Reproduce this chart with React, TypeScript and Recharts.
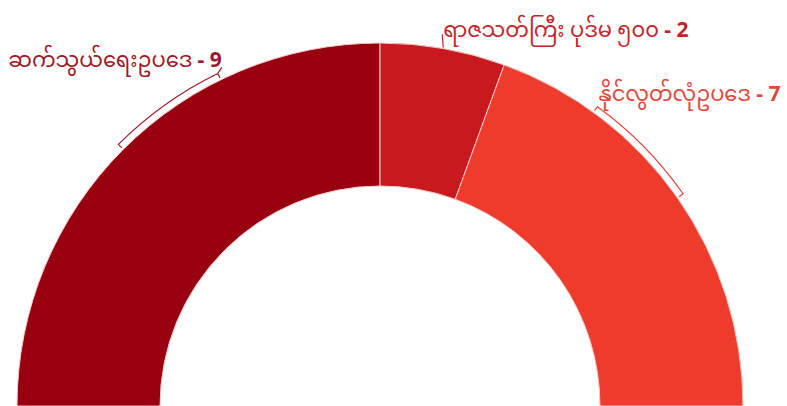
import { PieChart, Pie, Cell } from 'recharts';

const categories = ['ဆက်သွယ်ရေးဥပဒေ', 'ရာဇသတ်ကြီး ပုဒ်မ ၅၀၀', 'နိုင်လွတ်လုံဥပဒေ'];
const counts = [9, 2, 7];

const colors = ['#99000f', '#c8191e', '#ee3b2c'];
const textColors = ['#9e1726', '#c4242a', '#e2463b'];
// bracket span in degrees (toward the top of the arc), 0 = plain leader line
const bracketSpan = [19, 0, 19];

const data = categories.map((name, i) => ({ name, value: counts[i] }));

const RAD = Math.PI / 180;

function renderLabel(props: any) {
  const { cx, cy, outerRadius, midAngle, index } = props;
  const color = textColors[index];
  const pt = (a: number, r: number) => [cx + r * Math.cos(a * RAD), cy - r * Math.sin(a * RAD)];
  const span = bracketSpan[index];
  const r = outerRadius + 7;
  let path = '';
  let ex = 0;
  let ey = 0;
  if (span > 0) {
    const a1 = midAngle;
    const a2 = midAngle < 90 ? midAngle + span : midAngle - span;
    const [x1, y1] = pt(a1, r);
    const [x2, y2] = pt(a2, r);
    const [t1x, t1y] = pt(a1, outerRadius + 2);
    const [t2x, t2y] = pt(a2, outerRadius + 2);
    const sweep = a2 > a1 ? 0 : 1;
    path = `M${t1x},${t1y} L${x1},${y1} A${r},${r} 0 0 ${sweep} ${x2},${y2} L${t2x},${t2y}`;
    ex = x2;
    ey = y2;
  } else {
    const [x1, y1] = pt(midAngle, outerRadius + 1);
    const [x2, y2] = pt(midAngle + 0.5, outerRadius + 14);
    path = `M${x1},${y1} L${x2},${y2}`;
    ex = x2;
    ey = y2;
  }
  const left = midAngle > 90;
  let tx = left ? ex + 4 : ex + 1;
  let ty = ey - 6;
  if (span > 0 && left) {
    path += ` M${ex},${ey} L${ex + 4},${ey - 6}`;
  }
  if (span === 0) {
    ty = ey + 3;
    tx = ex + 1;
  }
  return (
    <g>
      <path d={path} stroke={color} strokeWidth={1.2} fill="none" />
      <text x={tx} y={ty} textAnchor={left ? 'end' : 'start'} fill={color} fontSize={21}
        fontFamily="'Noto Sans Myanmar', 'Padauk', 'Myanmar Text', 'Noto Sans', sans-serif">
        {props.name}
        <tspan fontWeight="bold">{' - ' + props.value}</tspan>
      </text>
    </g>
  );
}

export default function App() {
  return (
    <div style={{ position: 'absolute', left: 0, top: 0, width: 787, height: 406, background: '#fff', overflow: 'hidden' }}>
      <PieChart width={787} height={406} margin={{ top: 0, right: 0, bottom: 0, left: 0 }}>
        <Pie
          data={data}
          dataKey="value"
          nameKey="name"
          cx={380}
          cy={406}
          startAngle={180}
          endAngle={0}
          innerRadius={220}
          outerRadius={363}
          stroke="#f4c9c9"
          strokeWidth={1}
          label={renderLabel}
          labelLine={false}
          isAnimationActive={false}
        >
          {data.map((d, i) => (
            <Cell key={d.name} fill={colors[i]} />
          ))}
        </Pie>
      </PieChart>
    </div>
  );
}
